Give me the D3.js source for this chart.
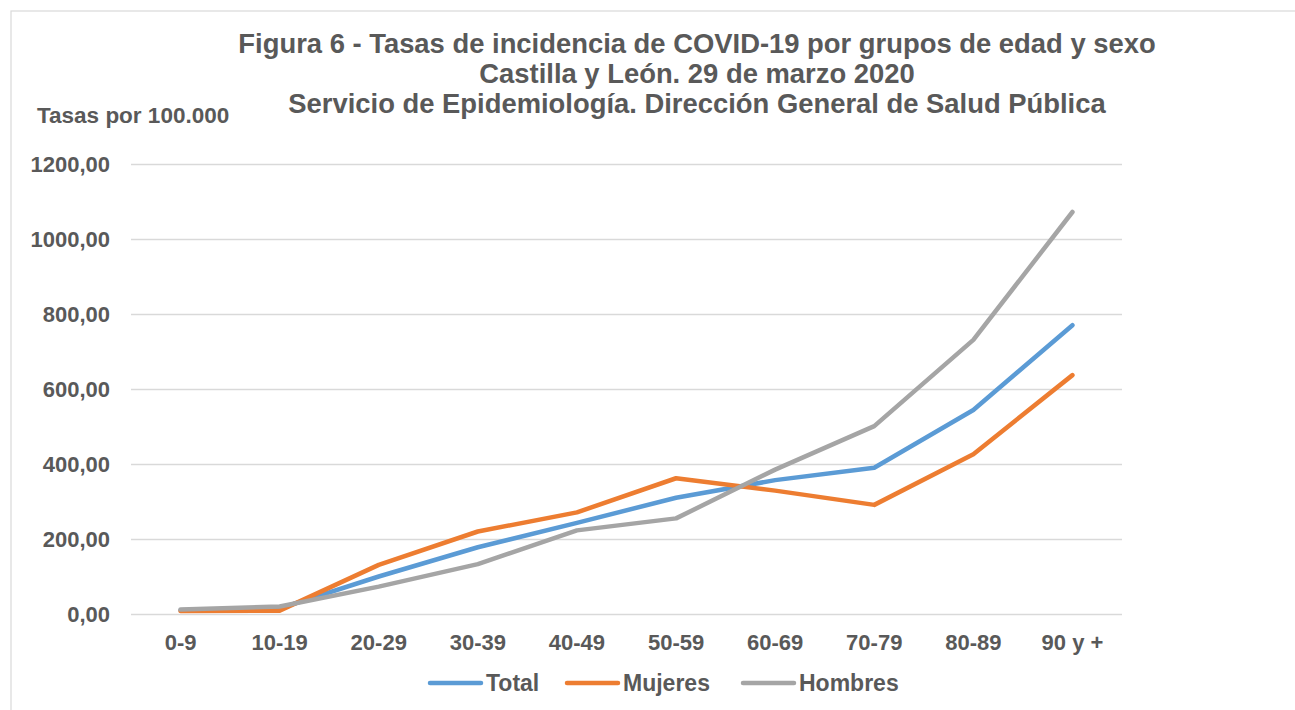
<!DOCTYPE html>
<html><head><meta charset="utf-8">
<script src="https://cdn.jsdelivr.net/npm/d3@7"></script>
<style>body{margin:0;background:#fff}svg{display:block}text{font-family:"Liberation Sans",Arial,sans-serif;font-weight:bold;fill:#595959}</style>
</head><body><svg id="c" width="1295" height="710"></svg>
<script>
const categories = ["0-9","10-19","20-29","30-39","40-49","50-59","60-69","70-79","80-89","90 y +"];
const total   = [10, 15, 100, 178, 243, 310, 357, 390, 544, 770];
const mujeres = [8, 9, 131, 220, 271, 362, 329, 291, 426, 637];
const hombres = [12, 20, 73, 133, 223, 255, 385, 501, 731, 1072];
const seriesNames = ["Total","Mujeres","Hombres"];
const colors = ["#5B9BD5","#ED7D31","#A5A5A5"];
const yTicks = [0,200,400,600,800,1000,1200];
const titleLines = ["Figura 6 - Tasas de incidencia de COVID-19 por grupos de edad y sexo","Castilla y León. 29 de marzo 2020","Servicio de Epidemiología. Dirección General de Salud Pública"];

const svg = d3.select("#c");
svg.append("rect").attr("x",11).attr("y",11).attr("width",1300).attr("height",720).attr("fill","none").attr("stroke","#D9D9D9").attr("stroke-width",1.2);

const L=131,R=1122,T=164,B=614;
const x = d3.scaleBand().domain(categories).range([L,R]);
const y = d3.scaleLinear().domain([0,1200]).range([B,T]);
const fmt = v => d3.format(".2f")(v).replace(".",",");

const ya = svg.append("g").attr("transform",`translate(${L},0)`)
  .call(d3.axisLeft(y).tickValues(yTicks).tickSize(-(R-L)).tickFormat(fmt).tickPadding(21));
ya.select(".domain").remove();
ya.selectAll("line").attr("stroke","#D9D9D9").attr("stroke-width",1.3);
ya.selectAll("text").attr("font-size","22px").attr("fill","#595959");

const xa = svg.append("g").attr("transform",`translate(0,${B})`)
  .call(d3.axisBottom(x).tickSize(0).tickPadding(20));
xa.select(".domain").remove();
xa.selectAll("text").attr("font-size","22px").attr("fill","#595959");
xa.attr("font-family",null); ya.attr("font-family",null);

const line = d3.line().x((d,i)=>x(categories[i])+x.bandwidth()/2).y(d=>y(d));
[total,mujeres,hombres].forEach((s,k)=>{
  svg.append("path").datum(s).attr("d",line).attr("fill","none")
    .attr("stroke",colors[k]).attr("stroke-width",4.5).attr("stroke-linecap","round").attr("stroke-linejoin","round");
});

svg.selectAll(".title").data(titleLines).join("text")
  .attr("x",697).attr("y",(d,i)=>53+i*30).attr("text-anchor","middle").attr("font-size","27.4px").text(d=>d);
svg.append("text").attr("x",37).attr("y",122.5).attr("font-size","22.5px").text("Tasas por 100.000");

const legX=[430,567,743];
seriesNames.forEach((n,k)=>{
  svg.append("line").attr("x1",legX[k]).attr("x2",legX[k]+51).attr("y1",683).attr("y2",683)
    .attr("stroke",colors[k]).attr("stroke-width",4.5).attr("stroke-linecap","round");
  svg.append("text").attr("x",legX[k]+56).attr("y",691).attr("font-size","23px").text(n);
});
</script></body></html>
